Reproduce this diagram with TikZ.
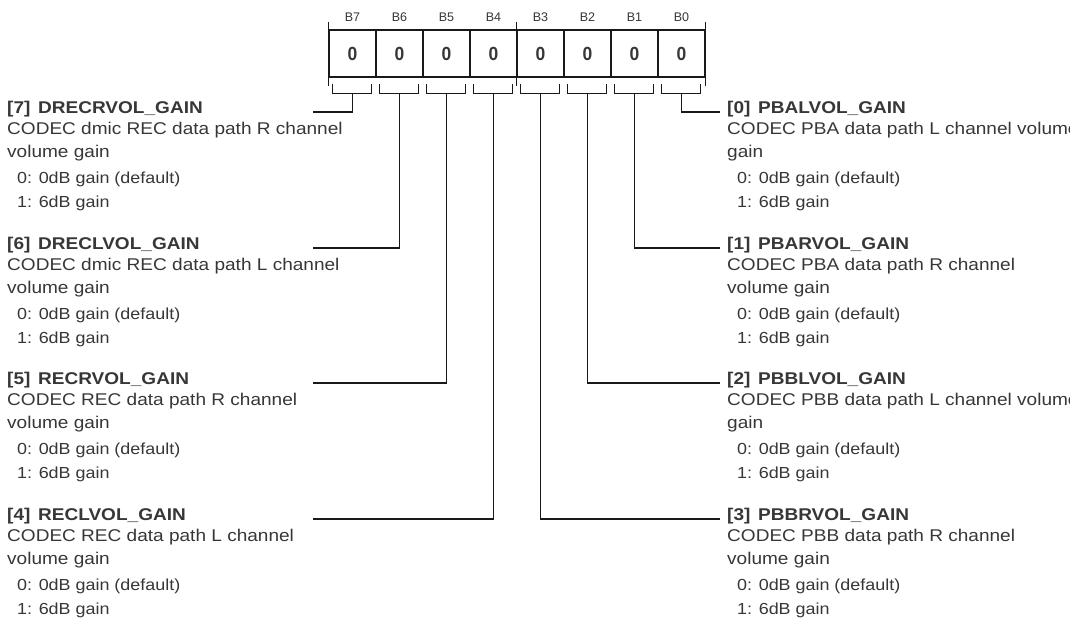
\documentclass[tikz,border=0pt]{standalone}
\usepackage{fontspec}
\setmainfont{Liberation Sans}[FakeStretch=1.12]
\newfontfamily\digitfont{Liberation Sans}[FakeStretch=0.92]
\newfontfamily\bitfont{Liberation Sans}
\definecolor{txt}{RGB}{55,55,55}
\definecolor{ln}{RGB}{25,25,25}
\newcommand\regblock[6]{%
  \node[ttl] (#1t) at (#2,#3) {#4};
  \node[body] (#1a) at (#2,#3+21) {#5};
  \node[body] (#1b) at (#2,#3+44) {#6};
  \node[item] (#1c) at (#2+10,#3+70) {0: 0dB gain (default)};
  \node[item] (#1d) at (#2+10,#3+94) {1: 6dB gain};
}
\begin{document}
\begin{tikzpicture}[x=1pt,y=-1pt,
  cell/.style={draw=ln, line width=1.2pt, minimum width=47pt, minimum height=47pt, inner sep=0pt, font=\digitfont\fontsize{19}{19}\selectfont\bfseries, text=txt},
  blab/.style={font=\bitfont\fontsize{12.5}{12.5}\selectfont, text=txt, inner sep=0pt},
  ttl/.style={anchor=base west, inner sep=0pt, font=\fontsize{17}{17}\selectfont\bfseries, text=txt},
  body/.style={anchor=base west, inner sep=0pt, font=\fontsize{17}{17}\selectfont, text=txt},
  item/.style={anchor=base west, inner sep=0pt, font=\fontsize{16}{16}\selectfont, text=txt},
  wire/.style={draw=ln, line width=1.2pt}]
\clip (0,0) rectangle (1070,622);
\fill[white] (0,0) rectangle (1070,622);
% register cells and bit labels
\foreach \b in {7,6,5,4,3,2,1,0}{
  \node[cell] (c\b) at ({352.5+47*(7-\b)},53.5) {0};
  \node[blab] (l\b) at ({352.5+47*(7-\b)},17) {B\b};
}
% extension ticks
\foreach \b in {7,3}{
  \draw[wire] ([yshift=7pt]c\b.north west) -- ([yshift=-8pt]c\b.south west);
}
\draw[wire] ([yshift=7pt]c0.north east) -- ([yshift=-8pt]c0.south east);
% brackets
\foreach \b in {7,6,5,4,3,2,1,0}{
  \draw[wire] ([xshift=4pt,yshift=-6pt]c\b.south west) -- ++(0,10) -- ++(39,0) -- ++(0,-10);
}
% line ends
\coordinate (e7) at (313,112);
\coordinate (e6) at (313,248);
\coordinate (e5) at (313,383);
\coordinate (e4) at (313,519);
\coordinate (e0) at (720,112);
\coordinate (e1) at (720,248);
\coordinate (e2) at (720,383);
\coordinate (e3) at (720,519);
\foreach \b in {7,6,5,4,3,2,1,0}{
  \draw[wire] ([yshift=-16pt]c\b.south) |- (e\b);
}
% left descriptions
\regblock{d7}{7}{113}{[7]\hspace{.45em}DRECRVOL\_GAIN}{CODEC dmic REC data path R channel}{volume gain}
\regblock{d6}{7}{249}{[6]\hspace{.45em}DRECLVOL\_GAIN}{CODEC dmic REC data path L channel}{volume gain}
\regblock{d5}{7}{384}{[5]\hspace{.45em}RECRVOL\_GAIN}{CODEC REC data path R channel}{volume gain}
\regblock{d4}{7}{520}{[4]\hspace{.45em}RECLVOL\_GAIN}{CODEC REC data path L channel}{volume gain}
% right descriptions
\regblock{d0}{727}{113}{[0]\hspace{.45em}PBALVOL\_GAIN}{CODEC PBA data path L channel volume}{gain}
\regblock{d1}{727}{249}{[1]\hspace{.45em}PBARVOL\_GAIN}{CODEC PBA data path R channel}{volume gain}
\regblock{d2}{727}{384}{[2]\hspace{.45em}PBBLVOL\_GAIN}{CODEC PBB data path L channel volume}{gain}
\regblock{d3}{727}{520}{[3]\hspace{.45em}PBBRVOL\_GAIN}{CODEC PBB data path R channel}{volume gain}
\end{tikzpicture}
\end{document}
